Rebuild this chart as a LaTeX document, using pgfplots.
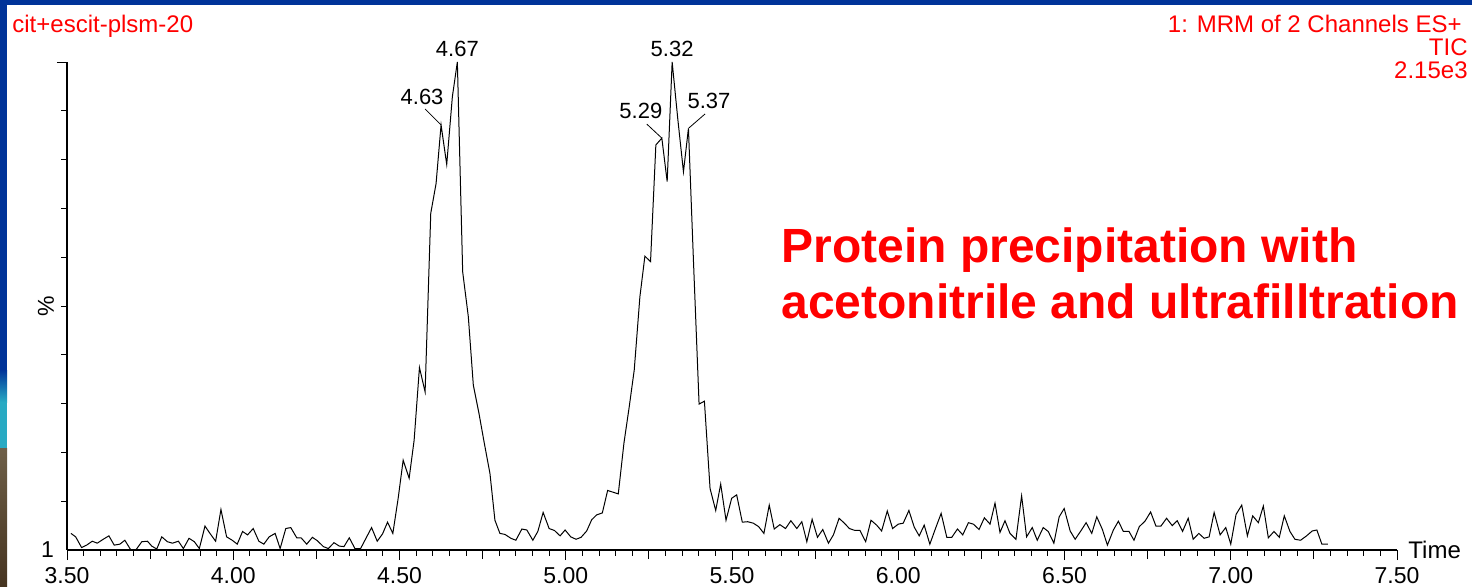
\documentclass[border=0pt]{standalone}
\usepackage{fontspec}
\setmainfont{Liberation Sans}
\usepackage{pgfplots}
\pgfplotsset{compat=1.18}

\definecolor{slideblue}{RGB}{0,51,153}
\definecolor{slideteal}{RGB}{40,170,195}
\definecolor{slidebrown}{RGB}{110,95,72}
\definecolor{slidedark}{RGB}{70,52,32}
\definecolor{mlred}{RGB}{255,0,0}

% TIC trace, time (min) vs relative intensity (%)
\pgfplotstableread{
t y
3.512 3.4
3.526 2.7
3.544 0.5
3.559 1.0
3.576 1.8
3.591 1.4
3.609 2.2
3.626 2.9
3.642 1.0
3.659 1.2
3.674 2.0
3.692 0.0
3.708 0.1
3.725 1.7
3.742 1.8
3.755 0.8
3.770 0.2
3.785 2.7
3.802 1.7
3.817 1.4
3.835 1.8
3.850 0.3
3.867 2.4
3.883 1.7
3.898 0.3
3.915 4.9
3.930 3.4
3.947 1.8
3.963 8.3
3.980 2.7
3.997 2.0
4.012 1.2
4.028 3.8
4.043 3.1
4.060 4.4
4.077 1.8
4.092 1.2
4.108 2.7
4.126 3.4
4.141 0.3
4.158 4.4
4.173 4.6
4.191 2.5
4.204 2.5
4.221 1.2
4.238 2.6
4.253 1.9
4.271 0.7
4.286 0.3
4.303 1.5
4.319 0.8
4.333 0.7
4.349 2.5
4.366 0.3
4.383 0.3
4.416 4.6
4.433 1.8
4.449 3.3
4.464 5.7
4.480 3.4
4.496 10.6
4.511 18.4
4.529 14.7
4.544 22.5
4.560 37.4
4.577 32.4
4.594 69.0
4.610 75.1
4.625 87.1
4.642 79.0
4.659 92.9
4.674 100.0
4.690 57.0
4.707 47.8
4.722 33.8
4.739 28.0
4.755 21.9
4.772 15.7
4.787 6.1
4.802 3.4
4.817 3.2
4.835 2.4
4.850 2.0
4.868 4.3
4.883 4.1
4.901 2.0
4.916 3.8
4.932 7.7
4.950 4.4
4.966 4.0
4.983 2.9
4.998 4.1
5.015 2.7
5.031 2.2
5.046 2.6
5.063 3.9
5.078 6.2
5.093 7.2
5.110 7.6
5.126 12.2
5.158 11.5
5.175 21.9
5.191 29.4
5.206 36.9
5.223 51.9
5.238 60.2
5.255 59.1
5.271 83.0
5.289 84.4
5.305 75.5
5.320 100.0
5.337 88.3
5.354 77.5
5.369 86.4
5.384 59.4
5.401 29.9
5.417 30.5
5.434 12.6
5.451 8.1
5.466 13.5
5.482 6.1
5.499 10.6
5.514 11.3
5.531 5.7
5.547 5.8
5.564 5.5
5.580 4.8
5.596 3.4
5.612 9.2
5.627 4.3
5.644 5.2
5.661 4.4
5.677 6.0
5.695 4.4
5.710 5.8
5.725 1.7
5.741 6.3
5.757 2.6
5.773 4.2
5.790 1.4
5.805 3.1
5.822 6.5
5.838 5.5
5.853 4.4
5.870 4.0
5.885 4.0
5.902 1.7
5.918 6.1
5.935 5.1
5.950 3.9
5.967 8.0
5.983 4.4
6.000 5.3
6.015 5.5
6.032 8.1
6.048 4.7
6.063 2.9
6.078 5.1
6.095 1.2
6.113 4.6
6.129 7.5
6.146 2.6
6.161 2.6
6.178 4.3
6.194 3.1
6.211 5.6
6.226 5.3
6.243 4.2
6.259 6.6
6.276 5.3
6.291 9.6
6.306 3.6
6.321 6.0
6.336 3.4
6.354 2.2
6.371 11.1
6.386 2.7
6.403 4.6
6.418 2.0
6.436 4.6
6.451 3.8
6.468 1.4
6.484 6.8
6.499 8.5
6.517 3.9
6.532 2.2
6.549 3.9
6.565 5.6
6.582 3.4
6.597 6.8
6.614 4.2
6.629 1.0
6.647 4.1
6.662 5.9
6.677 3.8
6.694 3.8
6.709 2.0
6.725 4.8
6.742 5.9
6.759 7.8
6.775 4.9
6.790 4.9
6.807 6.5
6.824 5.0
6.839 6.0
6.855 3.8
6.872 6.5
6.887 2.2
6.904 3.4
6.920 2.4
6.935 2.7
6.950 7.7
6.968 3.1
6.985 4.6
7.000 1.2
7.016 7.3
7.033 9.2
7.050 2.9
7.066 7.0
7.083 5.6
7.098 9.0
7.113 2.5
7.130 3.8
7.146 2.6
7.161 7.0
7.178 3.8
7.193 2.2
7.210 2.0
7.228 2.9
7.245 3.9
7.259 4.1
7.274 1.2
7.292 1.2
}\tic

\begin{document}
\begin{tikzpicture}
\path[use as bounding box] (0pt,0pt) rectangle (736pt,293pt);
\fill[white] (0pt,0pt) rectangle (736pt,293pt);
% slide frame
\fill[slideblue] (0pt,290.5pt) rectangle (736pt,293pt);
\fill[slideblue] (0pt,108pt) rectangle (3.5pt,293pt);
\shade[top color=slideblue, bottom color=slideteal] (0pt,92pt) rectangle (3.5pt,108pt);
\fill[slideteal] (0pt,69pt) rectangle (3.5pt,92pt);
\shade[top color=slidebrown, bottom color=slidedark] (0pt,0pt) rectangle (3.5pt,69pt);

\begin{axis}[
  at={(33.5pt,18pt)}, anchor=south west,
  scale only axis, width=665pt, height=244pt,
  xmin=3.5, xmax=7.5, ymin=0, ymax=100,
  axis x line*=bottom, axis y line*=left,
  axis line style={-, line width=0.6pt},
  tick align=outside,
  major tick length=5pt, minor tick length=2.8pt,
  tick style={black, line width=0.5pt},
  xtick={3.5,4,...,7.5},
  xticklabels={3.50,4.00,4.50,5.00,5.50,6.00,6.50,7.00,7.50},
  minor x tick num=9,
  extra x ticks={3.75,4.25,...,7.25},
  extra x tick labels={,,,,,,,},
  extra x tick style={major tick length=4.5pt},
  ytick={100}, yticklabels={{}},
  minor ytick={10,20,...,90},
  extra y ticks={0}, extra y tick labels={1},
  extra y tick style={major tick length=0pt, yticklabel style={xshift=-3pt}},
  ticklabel style={font=\fontsize{11.5}{13}\selectfont},
  xlabel={Time},
  xlabel style={at={(rel axis cs:1,0)}, anchor=west, inner sep=0pt, xshift=5.5pt,
    font=\fontsize{12}{14}\selectfont},
  ylabel={\%},
  ylabel style={at={([xshift=-10.5pt]rel axis cs:0,0.5)}, anchor=center,
    font=\fontsize{11.5}{13}\selectfont},
  clip=false,
]
\addplot[black, line width=0.5pt] table[x=t, y=y] {\tic};

% peak labels
\begin{scope}[every node/.style={font=\fontsize{11}{13}\selectfont, inner sep=1pt}]
\node[anchor=south, yshift=1.5pt] at (axis cs:4.674,100) {4.67};
\draw[line width=0.4pt] (axis cs:4.625,87.1) -- ++(-8pt,8pt) node[anchor=south, xshift=-1.5pt, yshift=1pt] {4.63};
\node[anchor=south, yshift=1.5pt] at (axis cs:5.320,100) {5.32};
\draw[line width=0.4pt] (axis cs:5.289,84.4) -- ++(-7.5pt,7pt) node[anchor=south, xshift=-3pt, yshift=1.5pt] {5.29};
\draw[line width=0.4pt] (axis cs:5.369,86.4) -- ++(8.3pt,7.2pt) node[anchor=south, xshift=2pt, yshift=1.5pt] {5.37};
\end{scope}
\end{axis}

% headers
\begin{scope}[every node/.style={text=mlred, font=\fontsize{12}{14}\selectfont, inner sep=0pt}]
\node[anchor=base west] at (6pt,277pt) {cit+escit-plsm-20};
\node[anchor=base east] at (731pt,277pt) {1: MRM of 2 Channels ES+};
\node[anchor=base east] at (734pt,265.5pt) {TIC};
\node[anchor=base east] at (734pt,254pt) {2.15e3};
\end{scope}

% method note
\begin{scope}[every node/.style={text=mlred, inner sep=0pt,
    font=\fontsize{24}{29}\selectfont\bfseries}]
\node[anchor=base west] at (390.5pt,162pt) {Protein precipitation with};
\node[anchor=base west] at (390.5pt,134pt) {acetonitrile and ultrafilltration};
\end{scope}
\end{tikzpicture}
\end{document}
